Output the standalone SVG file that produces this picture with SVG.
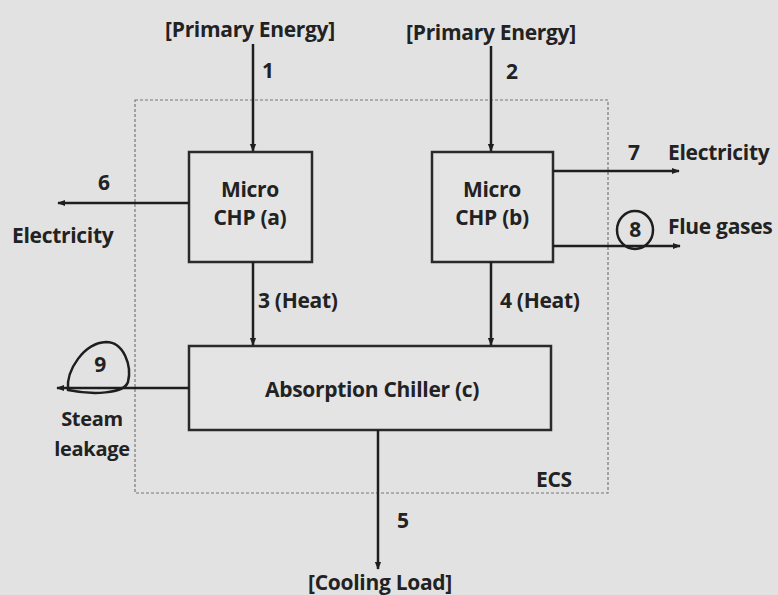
<svg xmlns="http://www.w3.org/2000/svg" width="778" height="595" viewBox="0 0 778 595">
<defs>
<marker id="ah" viewBox="0 0 10 10" refX="9" refY="5" markerWidth="8" markerHeight="8" orient="auto" markerUnits="userSpaceOnUse">
<path d="M0,1 L10,5 L0,9 Z" fill="#1e1e1e"/>
</marker>
<style>
.bg{fill:#e2e2e2}
.box{fill:#e4e4e4;stroke:#2a2a2a;stroke-width:2.5}
.ecs{fill:none;stroke:#777;stroke-width:1.2;stroke-dasharray:3 2}
.c{stroke:#1e1e1e;stroke-width:2.5;fill:none}
.t{font-family:"Open Sans","Liberation Sans",sans-serif;font-weight:700;font-size:21px;fill:#222;letter-spacing:-0.3px}
.s{font-size:20px}
.m{text-anchor:middle}
.ring{fill:none;stroke:#1e1e1e;stroke-width:2.5}
</style>
</defs>
<rect class="bg" x="0" y="0" width="778" height="595"/>
<g id="ecs-boundary">
<rect class="ecs" x="135" y="100" width="473" height="393"/>
<text class="t" x="536" y="487">ECS</text>
</g>
<g id="node-a">
<rect class="box" x="189" y="152" width="123" height="110"/>
<text class="t m" x="250" y="197">Micro</text>
<text class="t m" x="250" y="225">CHP (a)</text>
</g>
<g id="node-b">
<rect class="box" x="432" y="152" width="121" height="110"/>
<text class="t m" x="492" y="197">Micro</text>
<text class="t m" x="492" y="225">CHP (b)</text>
</g>
<g id="node-c">
<rect class="box" x="189" y="346" width="362" height="84"/>
<text class="t m" x="372" y="397">Absorption Chiller (c)</text>
</g>
<g id="connectors">
<line class="c" x1="253" y1="44" x2="253" y2="151" marker-end="url(#ah)"/>
<line class="c" x1="491" y1="46" x2="491" y2="151" marker-end="url(#ah)"/>
<line class="c" x1="189" y1="203" x2="58" y2="203" marker-end="url(#ah)"/>
<line class="c" x1="553" y1="171" x2="679" y2="171" marker-end="url(#ah)"/>
<line class="c" x1="553" y1="246" x2="680" y2="246" marker-end="url(#ah)"/>
<line class="c" x1="253" y1="262" x2="253" y2="345" marker-end="url(#ah)"/>
<line class="c" x1="491" y1="262" x2="491" y2="345" marker-end="url(#ah)"/>
<line class="c" x1="189" y1="388" x2="57" y2="388" marker-end="url(#ah)"/>
<line class="c" x1="378" y1="430" x2="378" y2="569" marker-end="url(#ah)"/>
</g>
<g id="labels">
<text class="t m" x="250" y="37">[Primary Energy]</text>
<text class="t m" x="491" y="40">[Primary Energy]</text>
<text class="t" x="262" y="78">1</text>
<text class="t" x="506" y="79">2</text>
<text class="t" x="98" y="190">6</text>
<text class="t" x="12" y="243">Electricity</text>
<text class="t" x="628" y="160">7</text>
<text class="t" x="668" y="160">Electricity</text>
<ellipse class="ring" cx="635" cy="230" rx="18" ry="19"/>
<text class="t m" x="635" y="237">8</text>
<text class="t" x="668" y="234">Flue gases</text>
<text class="t" x="258" y="308">3 (Heat)</text>
<text class="t" x="500" y="308">4 (Heat)</text>
<path class="ring" d="M68,390 C66,370 84,343 106,342 C124,342 132,366 128,382 C124,394 92,395 68,390 Z"/>
<text class="t m" x="100" y="372">9</text>
<text class="t s m" x="92" y="426">Steam</text>
<text class="t s m" x="92" y="456">leakage</text>
<text class="t" x="397" y="528">5</text>
<text class="t m" x="380" y="590">[Cooling Load]</text>
</g>
</svg>
